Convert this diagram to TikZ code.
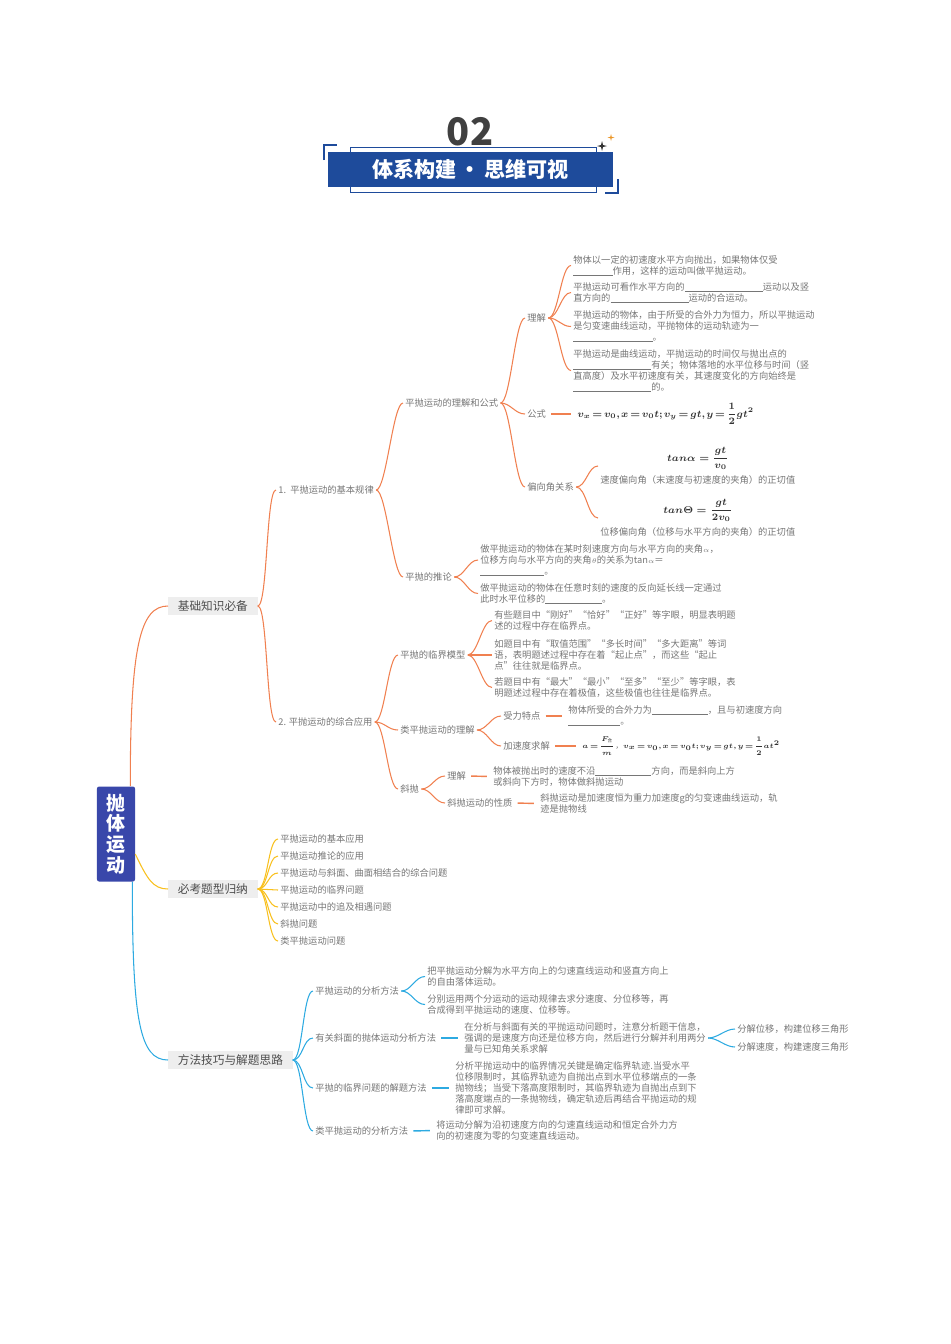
\documentclass[tikz,border=0pt]{standalone}
\usepackage{amsmath}
\usepackage{amssymb}
\usepackage{fontspec}
\usepackage{tikz}
\usepackage{xcolor}
\setmainfont{Noto Sans CJK SC}
\usetikzlibrary{positioning, calc}

\definecolor{orangeline}{RGB}{240,128,80}
\definecolor{yellowline}{RGB}{248,192,30}
\definecolor{blueline}{RGB}{45,170,225}
\definecolor{rootblue}{RGB}{57,71,170}
\definecolor{bannerblue}{RGB}{30,75,155}
\definecolor{textgray}{RGB}{118,118,118}
\definecolor{catgray}{RGB}{238,238,238}
\definecolor{stargold}{RGB}{235,150,40}

\newcommand{\blank}[1]{\rule[-0.8pt]{#1}{0.4pt}}
\newcommand{\tightmath}{\medmuskip=2mu\thickmuskip=2.5mu\thinmuskip=1.5mu}

\begin{document}
\begin{tikzpicture}[x=0.025cm, y=-0.025cm,
  txt/.style={anchor=west, align=left, inner sep=1.5pt, text=textgray, font=\fontsize{6.6}{7.8}\selectfont},
  cat/.style={anchor=west, fill=catgray, text=black!70, inner xsep=0.24cm, inner ysep=0.1cm, font=\fontsize{8.3}{9}\selectfont},
  fml/.style={anchor=west, inner sep=1.5pt, text=black!80},
  ol/.style={orangeline, line width=0.75pt},
  yl/.style={yellowline, line width=0.75pt},
  bl/.style={blueline, line width=0.75pt},
  dl/.style={line width=1pt, shorten <=2pt, shorten >=3pt}]

\useasboundingbox (0,0) rectangle (950,1344);

% Header
\node[font=\fontsize{27}{27}\selectfont\bfseries, text=black!75] (num) at (470,132) {02};
\draw[bannerblue, line width=0.6pt] (350,147) rectangle (596,192);
\node[fill=bannerblue, text=white, minimum width=7.125cm, minimum height=0.875cm,
  font=\fontsize{15}{15}\selectfont\bfseries] (banner) at (470.5,169.5) {体系构建\,・\,思维可视};
\draw[bannerblue, line width=0.8pt] (324,160) -- (324,145) -- (337,145);
\draw[bannerblue, line width=0.8pt] (605,193) -- (618,193) -- (618,179);
\fill[black!80] (602,141) -- ++(1,4) -- ++(4,1) -- ++(-4,1) -- ++(-1,4) -- ++(-1,-4) -- ++(-4,-1) -- ++(4,-1) -- cycle;
\fill[stargold] (611,134) -- ++(0.7,2.8) -- ++(2.8,0.7) -- ++(-2.8,0.7) -- ++(-0.7,2.8) -- ++(-0.7,-2.8) -- ++(-2.8,-0.7) -- ++(2.8,-0.7) -- cycle;

% Root and main branches
\node[fill=rootblue, text=white, align=center, rounded corners=1.5pt, minimum width=0.95cm,
  minimum height=2.375cm, font=\fontsize{13.5}{14.7}\selectfont\bfseries] (root) at (116,834) {抛\\体\\运\\动};
\node[cat] (jichu) at (168,606) {基础知识必备};
\node[cat] (bikao) at (168,889) {必考题型归纳};
\node[cat] (fangfa) at (168,1060) {方法技巧与解题思路};

\draw[ol] ($(root.north east)+(-5,0)$) .. controls +(0,-140) and +(-28,0) .. (jichu.west);
\draw[yl] ($(root.east)+(0,20)$) .. controls +(12,25) and +(-15,0) .. (bikao.west);
\draw[bl] ($(root.south east)+(-3,0)$) .. controls +(0,140) and +(-28,0) .. (fangfa.west);

% Basic knowledge
\node[txt] (a1) at (276,490) {1.\ \ 平抛运动的基本规律};
\node[txt] (a2) at (276,722) {2. 平抛运动的综合应用};
\node[txt] (a11) at (403,403) {平抛运动的理解和公式};
\node[txt] (a12) at (403,577) {平抛的推论};
\node[txt] (lj) at (525,318) {理解};
\node[txt] (gs) at (525,414) {公式};
\node[txt] (pxj) at (525,487) {偏向角关系};

\node[txt] (lj1) at (571,265.5) {物体以一定的初速度水平方向抛出，如果物体仅受\\\blank{0.98cm}作用，这样的运动叫做平抛运动。};
\node[txt] (lj2) at (571,292.5) {平抛运动可看作水平方向的\blank{1.95cm}运动以及竖\\直方向的\blank{1.95cm}运动的合运动。};
\node[txt] (lj3) at (571,326.5) {平抛运动的物体，由于所受的合外力为恒力，所以平抛运动\\是匀变速曲线运动，平抛物体的运动轨迹为一\\\blank{1.98cm}。};
\node[txt] (lj4) at (571,370.5) {平抛运动是曲线运动，平抛运动的时间仅与抛出点的\\\blank{1.95cm}有关；物体落地的水平位移与时间（竖\\直高度）及水平初速度有关，其速度变化的方向始终是\\\blank{1.95cm}的。};
\node[fml, font=\fontsize{6.6}{8}\selectfont\boldmath\tightmath] (gsf) at (575,414) {$v_x=v_0,x=v_0t;v_y=gt,y=\dfrac{1}{2}gt^2$};
\node[txt, align=center] (pxj1) at (598,466) {{\boldmath\color{black!80}\fontsize{7}{8}\selectfont$tan\alpha=\dfrac{gt}{v_0}$}\\[3pt]速度偏向角（末速度与初速度的夹角）的正切值};
\node[txt, align=center] (pxj2) at (598,518) {{\boldmath\color{black!80}\fontsize{7}{8}\selectfont$tan\Theta=\dfrac{gt}{2v_0}$}\\[3pt]位移偏向角（位移与水平方向的夹角）的正切值};

\node[txt] (tl1) at (478,560) {做平抛运动的物体在某时刻速度方向与水平方向的夹角$\scriptstyle\alpha$，\\位移方向与水平方向的夹角$\scriptstyle\theta$的关系为tan$\scriptstyle\alpha$＝\\\blank{1.6cm}。};
\node[txt] (tl2) at (478,593.5) {做平抛运动的物体在任意时刻的速度的反向延长线一定通过\\此时水平位移的\blank{1.42cm}。};

\node[txt] (a21) at (398,655) {平抛的临界模型};
\node[txt] (a22) at (398,730) {类平抛运动的理解};
\node[txt] (a23) at (398,789) {斜抛};
\node[txt] (lm1) at (492,620.5) {有些题目中“刚好”“恰好”“正好”等字眼，明显表明题\\述的过程中存在临界点。};
\node[txt] (lm2) at (492,655) {如题目中有“取值范围”“多长时间”“多大距离”等词\\语，表明题述过程中存在着“起止点”，而这些“起止\\点”往往就是临界点。};
\node[txt] (lm3) at (492,687.5) {若题目中有“最大”“最小”“至多”“至少”等字眼，表\\明题述过程中存在着极值，这些极值也往往是临界点。};
\node[txt] (slt) at (501,716) {受力特点};
\node[txt] (jsd) at (501,746) {加速度求解};
\node[txt] (slt1) at (566,716) {物体所受的合外力为\blank{1.4cm}，且与初速度方向\\\blank{1.3cm}。};
\node[fml, font=\fontsize{4.6}{6}\selectfont\boldmath\tightmath] (jsd1) at (580,746) {$a=\dfrac{F_{\text{合}}}{m}$\,，\,$v_x=v_0,x=v_0t;v_y=gt,y=\dfrac{1}{2}at^2$};
\node[txt] (xplj) at (445,776) {理解};
\node[txt] (xpxz) at (445,803) {斜抛运动的性质};
\node[txt] (xplj1) at (491,776.5) {物体被抛出时的速度不沿\blank{1.4cm}方向，而是斜向上方\\或斜向下方时，物体做斜抛运动};
\node[txt] (xpxz1) at (538,803.5) {斜抛运动是加速度恒为重力加速度g的匀变速曲线运动，轨\\迹是抛物线};

\foreach \c in {a1,a2} \draw[ol] (jichu.east) .. controls +(10,0) and +(-10,0) .. (\c.west);
\foreach \c in {a11,a12} \draw[ol] (a1.east) .. controls +(10,0) and +(-10,0) .. (\c.west);
\foreach \c in {lj,gs,pxj} \draw[ol] (a11.east) .. controls +(10,0) and +(-10,0) .. (\c.west);
\foreach \c in {lj1,lj2,lj3,lj4} \draw[ol] (lj.east) .. controls +(10,0) and +(-10,0) .. (\c.west);
\foreach \c in {pxj1,pxj2} \draw[ol] (pxj.east) .. controls +(10,0) and +(-10,0) .. (\c.west);
\foreach \c in {tl1,tl2} \draw[ol] (a12.east) .. controls +(10,0) and +(-10,0) .. (\c.west);
\foreach \c in {a21,a22,a23} \draw[ol] (a2.east) .. controls +(10,0) and +(-10,0) .. (\c.west);
\foreach \c in {lm1,lm2,lm3} \draw[ol] (a21.east) .. controls +(10,0) and +(-10,0) .. (\c.west);
\foreach \c in {slt,jsd} \draw[ol] (a22.east) .. controls +(10,0) and +(-10,0) .. (\c.west);
\foreach \c in {xplj,xpxz} \draw[ol] (a23.east) .. controls +(10,0) and +(-10,0) .. (\c.west);
\draw[ol, dl] (gs.east) -- (gsf.west);
\draw[ol, dl] (slt.east) -- (slt1.west);
\draw[ol, dl] (jsd.east) -- (jsd1.west);
\draw[ol, dl] (xplj.east) -- (xplj1.west);
\draw[ol, dl] (xpxz.east) -- (xpxz1.west);

% Question types
\foreach \t [count=\i] in {平抛运动的基本应用, 平抛运动推论的应用, 平抛运动与斜面、曲面相结合的综合问题,
  平抛运动的临界问题, 平抛运动中的追及相遇问题, 斜抛问题, 类平抛运动问题} {
  \node[txt] (bk\i) at (278,822+17*\i) {\t};
  \draw[yl] (bikao.east) .. controls +(10,0) and +(-10,0) .. (bk\i.west);
}

% Methods
\node[txt] (ff1) at (313,991) {平抛运动的分析方法};
\node[txt] (ff2) at (313,1038) {有关斜面的抛体运动分析方法};
\node[txt] (ff3) at (313,1088) {平抛的临界问题的解题方法};
\node[txt] (ff4) at (313,1131) {类平抛运动的分析方法};
\node[txt] (ff11) at (425,976.5) {把平抛运动分解为水平方向上的匀速直线运动和竖直方向上\\的自由落体运动。};
\node[txt] (ff12) at (425,1004.5) {分别运用两个分运动的运动规律去求分速度、分位移等，再\\合成得到平抛运动的速度、位移等。};
\node[txt] (ff21) at (462,1038) {在分析与斜面有关的平抛运动问题时，注意分析题干信息，\\强调的是速度方向还是位移方向，然后进行分解并利用两分\\量与已知角关系求解};
\node[txt] (ff211) at (735,1029) {分解位移，构建位移三角形};
\node[txt] (ff212) at (735,1047) {分解速度，构建速度三角形};
\node[txt] (ff31) at (453,1088) {分析平抛运动中的临界情况关键是确定临界轨迹.当受水平\\位移限制时，其临界轨迹为自抛出点到水平位移端点的一条\\抛物线；当受下落高度限制时，其临界轨迹为自抛出点到下\\落高度端点的一条抛物线，确定轨迹后再结合平抛运动的规\\律即可求解。};
\node[txt] (ff41) at (434,1130.5) {将运动分解为沿初速度方向的匀速直线运动和恒定合外力方\\向的初速度为零的匀变速直线运动。};

\foreach \c in {ff1,ff2,ff3,ff4} \draw[bl] (fangfa.east) .. controls +(10,0) and +(-10,0) .. (\c.west);
\foreach \c in {ff11,ff12} \draw[bl] (ff1.east) .. controls +(10,0) and +(-10,0) .. (\c.west);
\foreach \c in {ff211,ff212} \draw[bl] (ff21.east) .. controls +(10,0) and +(-10,0) .. (\c.west);
\draw[bl, dl] (ff2.east) -- (ff21.west);
\draw[bl, dl] (ff3.east) -- (ff31.west);
\draw[bl, dl] (ff4.east) -- (ff41.west);
\end{tikzpicture}
\end{document}
